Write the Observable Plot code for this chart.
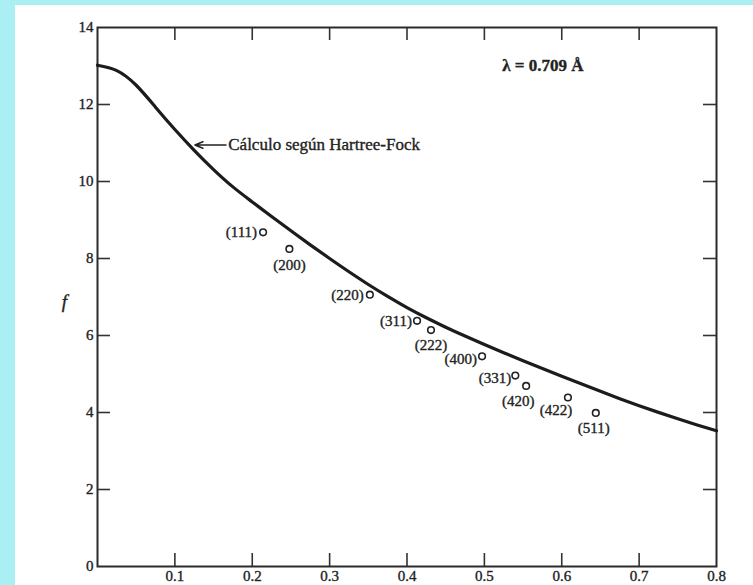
<!DOCTYPE html>
<html><head><meta charset="utf-8">
<script src="https://cdn.jsdelivr.net/npm/d3@7"></script>
<script src="https://cdn.jsdelivr.net/npm/@observablehq/plot@0.6"></script>
<style>
html,body{margin:0;padding:0;background:#a9eff4;width:753px;height:585px;overflow:hidden;}
#page{position:absolute;left:15px;top:5px;right:0;bottom:0;background:#fff;}
#chart{position:absolute;left:0;top:0;}
#chart text{paint-order:stroke;stroke:#222;stroke-width:0.35px;}
</style></head><body><div id="page"></div><div id="chart"></div>
<script>
// Hartree-Fock curve (sinθ/λ, f)
const curveX = [0, 0.025, 0.05, 0.075, 0.10, 0.125, 0.15, 0.175, 0.20, 0.225, 0.25, 0.275, 0.30, 0.325, 0.35, 0.375, 0.40, 0.425, 0.45, 0.475, 0.50, 0.525, 0.55, 0.575, 0.60, 0.625, 0.65, 0.675, 0.70, 0.725, 0.75, 0.775, 0.80];
const curveF = [13.02, 12.88, 12.50, 11.93, 11.35, 10.81, 10.31, 9.86, 9.47, 9.09, 8.72, 8.355, 8.00, 7.655, 7.325, 7.015, 6.725, 6.46, 6.215, 5.985, 5.765, 5.553, 5.345, 5.143, 4.943, 4.745, 4.55, 4.36, 4.178, 4.003, 3.836, 3.676, 3.524];
// Measured reflections
const reflections = ["(111)", "(200)", "(220)", "(311)", "(222)", "(400)", "(331)", "(420)", "(422)", "(511)"];
const reflX = [0.214, 0.248, 0.352, 0.413, 0.431, 0.497, 0.540, 0.554, 0.608, 0.644];
const reflF = [8.68, 8.25, 7.06, 6.38, 6.14, 5.46, 4.96, 4.69, 4.39, 3.99];
// Axes
const xTickLabels = [0.1, 0.2, 0.3, 0.4, 0.5, 0.6, 0.7, 0.8];
const xInnerTicks = [0.1, 0.2, 0.3, 0.4, 0.5, 0.6, 0.7];
const yTickLabels = [0, 2, 4, 6, 8, 10, 12, 14];
const yInnerTicks = [2, 4, 6, 8, 10, 12];
const yLabel = "f";
const yLabelF = 6.86;
// Annotations
const hfNote = "Cálculo según Hartree-Fock";
const hfNoteX = [0.126, 0.166, 0.169];
const hfNoteF = 10.95;
const lambdaLabel = "λ = 0.709 Å";
const lambdaX = 0.523;
const lambdaF = 13.0;

const W = 753, H = 585, mL = 97, mR = 37, mT = 27, mB = 19;
const plotW = W - mL - mR, plotH = H - mT - mB, tickLen = 13;
const ink = "#222";

const points = reflections.map((label, i) => ({label, x: reflX[i], f: reflF[i]}));
const curve = curveX.map((x, i) => ({x, f: curveF[i]}));

// label placement (style): [dx, dy, anchor]
const place = {
  "(111)": [-6, 0, "end"], "(200)": [0, 16, "middle"], "(220)": [-6, 0, "end"],
  "(311)": [-5, 0, "end"], "(222)": [0, 15, "middle"], "(400)": [-5, 3, "end"],
  "(331)": [-4, 3, "end"], "(420)": [-8, 15, "middle"], "(422)": [-12, 13, "middle"],
  "(511)": [-2, 15, "middle"]
};
const labelMarks = points.map(p => {
  const [dx, dy, anchor] = place[p.label];
  return Plot.text([p], {x: "x", y: "f", text: "label", dx, dy, textAnchor: anchor, fontSize: 15, fill: ink});
});

const chart = Plot.plot({
  width: W, height: H,
  marginLeft: mL, marginRight: mR, marginTop: mT, marginBottom: mB,
  style: {background: "transparent", fontFamily: "'Liberation Serif', 'DejaVu Serif', serif", fontSize: "15px", color: ink},
  x: {domain: [0, 0.8], ticks: xTickLabels, tickSize: 0, tickPadding: 4, tickFormat: d3.format(".1f"), label: null},
  y: {domain: [0, 14], ticks: yTickLabels, tickSize: 0, tickPadding: 4, tickFormat: d3.format("d"), label: null},
  marks: [
    Plot.tickX(xInnerTicks, {insetTop: plotH - tickLen, stroke: "#333", strokeWidth: 1.6}),
    Plot.tickX(xInnerTicks, {insetBottom: plotH - tickLen, stroke: "#333", strokeWidth: 1.6}),
    Plot.tickY(yInnerTicks, {insetRight: plotW - tickLen, stroke: "#333", strokeWidth: 1.6}),
    Plot.tickY(yInnerTicks, {insetLeft: plotW - tickLen, stroke: "#333", strokeWidth: 1.6}),
    Plot.frame({stroke: "#2b2b2b", strokeWidth: 2}),
    Plot.line(curve, {x: "x", y: "f", curve: "natural", stroke: "#1c1c1c", strokeWidth: 3.2}),
    Plot.dot(points, {x: "x", y: "f", r: 3.3, fill: "white", stroke: ink, strokeWidth: 1.6}),
    ...labelMarks,
    Plot.arrow([{x1: hfNoteX[1], x2: hfNoteX[0], y: hfNoteF}], {x1: "x1", x2: "x2", y1: "y", y2: "y", stroke: ink, strokeWidth: 1.6, headLength: 8, headAngle: 45}),
    Plot.text([{x: hfNoteX[2], y: hfNoteF, t: hfNote}], {x: "x", y: "y", text: "t", textAnchor: "start", fontSize: 17, fill: ink}),
    Plot.text([{x: lambdaX, y: lambdaF, t: lambdaLabel}], {x: "x", y: "y", text: "t", textAnchor: "start", fontSize: 17, fontWeight: "bold", fill: ink}),
    Plot.text([{x: 0, y: yLabelF, t: yLabel}], {x: "x", y: "y", text: "t", dx: -33, fontSize: 19, fontStyle: "italic", fill: ink})
  ]
});
document.getElementById("chart").appendChild(chart);
</script>
</body></html>
